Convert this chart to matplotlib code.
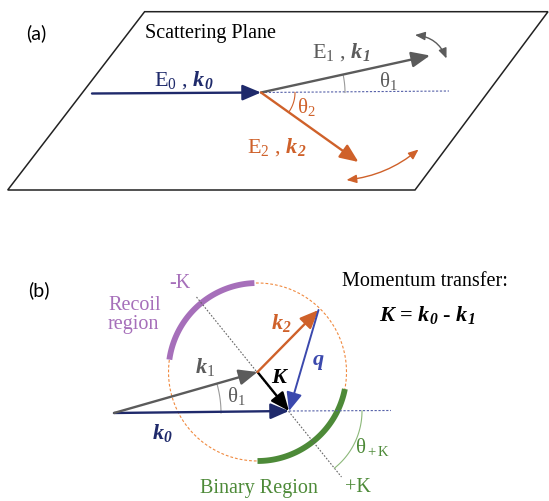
import numpy as np
import matplotlib.pyplot as plt
from matplotlib.patches import FancyArrowPatch, Polygon

plt.rcParams['mathtext.fontset'] = 'custom'
plt.rcParams['mathtext.rm'] = 'Liberation Serif'
plt.rcParams['mathtext.it'] = 'Liberation Serif:italic'
plt.rcParams['mathtext.bf'] = 'Liberation Serif:bold:italic'

# colours
navy = '#1f2a6b'
grey = '#5b5b5b'
orange = '#cf612a'
blue = '#3b49ad'
purple = '#a66fba'
green = '#4d8a38'

# ---- panel (a): scattering plane geometry (pixel units) ----
plane_x = [144.6, 548.0, 415.0, 7.7]
plane_y = [11.7, 11.7, 190.0, 190.0]
vertex = [261.0, 92.5]
k0a_start = [92.0, 93.5]
k1a_tip = [430.0, 55.5]
k2a_tip = [358.5, 162.0]
ref_end_a = [449.0, 91.0]
swing1 = [[415.0, 35.0], [446.5, 58.5]]
swing2 = [[346.5, 180.0], [418.5, 149.5]]

# ---- panel (b): momentum vectors (pixel units) ----
centre = [257.5, 372.0]
radius = 89.0
k0b_start = [114.0, 413.0]
Ktip = [289.0, 411.0]
k2b_tip = [318.5, 310.0]
ref_end_b = [391.0, 410.5]
axis_ends = [[196.5, 297.0], [341.5, 477.0]]
recoil_span = [92.0, 172.0]    # degrees, counter-clockwise from +x
binary_span = [-90.0, -11.0]


def arc_pts(c, r, a1, a2, n=80):
    t = np.radians(np.linspace(a1, a2, n))
    return c[0] + r * np.cos(t), c[1] - r * np.sin(t)


def angle(p, q):
    return np.degrees(np.arctan2(-(q[1] - p[1]), q[0] - p[0]))


def arrow(ax, p, q, color, lw=1.7, hl=0.8, hw=0.34, style='-|>', rad=0.0, ms=14):
    a = FancyArrowPatch(p, q, arrowstyle='%s,head_length=%s,head_width=%s' % (style, hl, hw),
                        color=color, lw=lw, shrinkA=0, shrinkB=0, mutation_scale=ms,
                        connectionstyle='arc3,rad=%s' % rad, zorder=5)
    ax.add_patch(a)


fig = plt.figure(figsize=(5.49, 5.01), dpi=100)
ax = fig.add_axes([0, 0, 1, 1])
ax.set_xlim(0, 549)
ax.set_ylim(501, 0)
ax.axis('off')

serif = 'Liberation Serif'
fs = 14.5
fl = 16

# plane outline
ax.add_patch(Polygon(np.column_stack([plane_x, plane_y]), closed=True, fill=False,
                     ec='#222222', lw=1.1))
ax.text(36.5, 33, '(a)', fontsize=14, family='Lato', ha='center', va='center')
ax.text(145, 33, 'Scattering Plane', fontsize=fs, family=serif, ha='left', va='center')

# reference line and angles
ax.plot([vertex[0], ref_end_a[0]], [vertex[1], ref_end_a[1]], ls=(0, (2, 1.5)),
        color='#5560a8', lw=0.8)
a1 = angle(vertex, k1a_tip)
x, y = arc_pts(vertex, 84, 0, a1)
ax.plot(x, y, color='#9a9a9a', lw=0.8)
a2 = angle(vertex, k2a_tip)
x, y = arc_pts(vertex, 34, a2, 0)
ax.plot(x, y, color=orange, lw=0.8)

arrow(ax, k0a_start, vertex, navy)
arrow(ax, vertex, k1a_tip, grey)
arrow(ax, vertex, k2a_tip, orange)
arrow(ax, swing1[0], swing1[1], grey, lw=1.0, style='<|-|>', hl=0.6, hw=0.25, rad=-0.3, ms=10)
arrow(ax, swing2[0], swing2[1], orange, lw=1.0, style='<|-|>', hl=0.6, hw=0.25, rad=0.15, ms=10)

ax.text(184, 80, r'E$_{0}$ , $\mathbf{k_0}$', fontsize=fl, family=serif, color=navy,
        ha='center', va='center')
ax.text(341, 52, r'E$_{1}$ , $\mathbf{k_1}$', fontsize=fl, family=serif, color=grey,
        ha='center', va='center')
ax.text(277, 147, r'E$_{2}$ , $\mathbf{k_2}$', fontsize=fl, family=serif, color=orange,
        ha='center', va='center')
ax.text(388, 81, r'θ$_{\mathit{1}}$', fontsize=fs + 0.5, family=serif, color=grey,
        ha='center', va='center')
ax.text(306, 107, r'θ$_{2}$', fontsize=fs + 0.5, family=serif, color=orange,
        ha='center', va='center')

# ---- panel (b) ----
ax.text(38.5, 290, '(b)', fontsize=14, family='Lato', ha='center', va='center')

x, y = arc_pts(centre, radius, 0, 360, 200)
ax.plot(x, y, color='#f08a40', lw=0.8, ls=(0, (2.5, 1.8)))
x, y = arc_pts(centre, radius, recoil_span[0], recoil_span[1])
ax.plot(x, y, color=purple, lw=4.2, solid_capstyle='butt')
x, y = arc_pts(centre, radius, binary_span[0], binary_span[1])
ax.plot(x, y, color=green, lw=4.2, solid_capstyle='butt')

ax.plot([axis_ends[0][0], axis_ends[1][0]], [axis_ends[0][1], axis_ends[1][1]],
        color='#666666', lw=0.8, ls=(0, (1.5, 1.5)))
ax.plot([Ktip[0], ref_end_b[0]], [Ktip[1], ref_end_b[1]], color='#5560a8', lw=0.8,
        ls=(0, (2, 1.5)))

# angle arcs
ak = angle(Ktip, axis_ends[1])
x, y = arc_pts(Ktip, 73, ak, 0)
ax.plot(x, y, color='#8cb87a', lw=0.8)
ab = angle(k0b_start, centre)
x, y = arc_pts(k0b_start, 107, 0, ab)
ax.plot(x, y, color='#9a9a9a', lw=0.8)

arrow(ax, k0b_start, Ktip, navy)
arrow(ax, k0b_start, centre, grey)
arrow(ax, centre, Ktip, 'black')
arrow(ax, centre, k2b_tip, orange)
arrow(ax, k2b_tip, Ktip, blue, lw=1.4)

ax.text(180, 284, '-K', fontsize=fs, family=serif, color=purple, ha='center', va='center')
ax.text(108, 315, 'Recoil\nregion', fontsize=fs, family=serif, color=purple,
        ha='left', va='center', linespacing=1.05)
ax.text(205, 367, r'$\mathbf{k}_{1}$', fontsize=fl, color=grey, ha='center', va='center')
ax.text(281, 323, r'$\mathbf{k_2}$', fontsize=fl, color=orange, ha='center', va='center')
ax.text(318, 362, r'$\mathbf{q}$', fontsize=fl, color=blue, ha='center', va='center')
ax.text(280, 377, r'$\mathbf{K}$', fontsize=fl, color='black', ha='center', va='center')
ax.text(162, 433, r'$\mathbf{k_0}$', fontsize=fl, color=navy, ha='center', va='center')
ax.text(236, 396, r'θ$_{1}$', fontsize=fs + 0.5, family=serif, color=grey,
        ha='center', va='center')
ax.text(373, 447, r'θ$_{\rm +K}$', fontsize=fs + 0.5, family=serif, color=green,
        ha='center', va='center')
ax.text(200, 488, 'Binary Region', fontsize=fs, family=serif, color=green,
        ha='left', va='center')
ax.text(345, 488, '+K', fontsize=fs, family=serif, color=green, ha='left', va='center')

ax.text(342, 282, 'Momentum transfer:', fontsize=fs, family=serif, ha='left', va='center')
ax.text(427, 315, r'$\mathbf{K}$ = $\mathbf{k_0}$ - $\mathbf{k_1}$', fontsize=fl,
        family=serif, weight='bold', ha='center', va='center')

fig.savefig('out.png', dpi=100)
